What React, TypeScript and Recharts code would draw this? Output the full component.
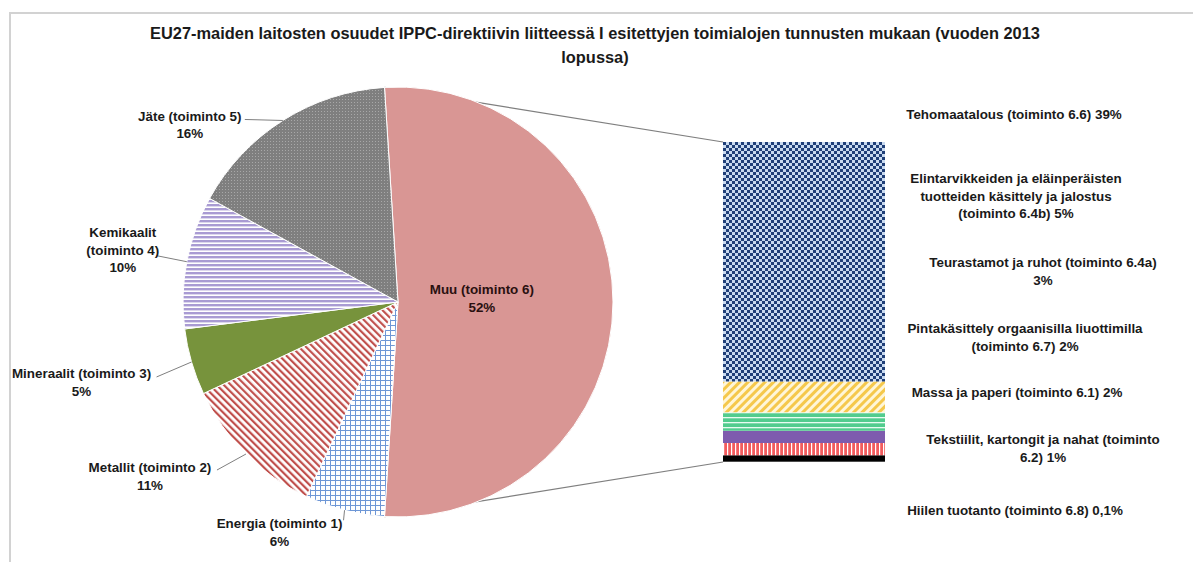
import React from "react";
import { PieChart, Pie, Cell, BarChart, Bar, XAxis, YAxis } from "recharts";

// ---------- data ----------
const titleLines = [
  "EU27-maiden laitosten osuudet IPPC-direktiivin liitteessä I esitettyjen toimialojen tunnusten mukaan (vuoden 2013",
  "lopussa)",
];

const pieNames = [
  "Muu (toiminto 6)",
  "Energia (toiminto 1)",
  "Metallit (toiminto 2)",
  "Mineraalit (toiminto 3)",
  "Kemikaalit (toiminto 4)",
  "Jäte (toiminto 5)",
];
const pieValues = [52, 6, 11, 5, 10, 16];

const barNames = [
  "Tehomaatalous (toiminto 6.6) ",
  "Elintarvikkeiden ja eläinperäisten\ntuotteiden käsittely ja jalostus\n(toiminto 6.4b)",
  "Teurastamot ja ruhot (toiminto 6.4a)\n",
  "Pintakäsittely orgaanisilla liuottimilla\n(toiminto 6.7)",
  "Massa ja paperi (toiminto 6.1)",
  "Tekstiilit, kartongit ja nahat (toiminto\n6.2)",
  "Hiilen tuotanto (toiminto 6.8)",
];
const barValues = [39, 5, 3, 2, 2, 1, 0.1];

// ---------- derived tables ----------
const pieData = pieNames.map((name, i) => ({ name, value: pieValues[i] }));
const pieTotal = pieValues.reduce((a, b) => a + b, 0);
const barKeys = barNames.map((_, i) => `s${i}`);
const barRow: Record<string, any> = { cat: pieNames[0] };
barKeys.forEach((k, i) => (barRow[k] = barValues[i]));
const barData = [barRow];
const barTotal = barValues.reduce((a, b) => a + b, 0);

// ---------- layout / style ----------
const W = 1193;
const H = 562;
const PIE = { cx: 398, cy: 302, r: 215 };
const BAR = { x: 723, y: 142, w: 162, h: 320 };
const FONT = "'Liberation Sans', Arial, sans-serif";
const TEXT = "#1a1a1a";
const LINE_H = 17.5;
const LABEL_FS = 13.4;

const muuHalf = ((pieValues[0] / pieTotal) * 360) / 2;
const START = muuHalf;
const END = muuHalf - 360;

const pieFills = [
  "#D99694",
  "url(#pEnergia)",
  "url(#pMetallit)",
  "#77933C",
  "url(#pKemikaalit)",
  "url(#pJate)",
];
const barFills = [
  "url(#pTeho)",
  "url(#pElin)",
  "url(#pTeur)",
  "#7E5BAE",
  "url(#pMassa)",
  "#000000",
  "#333333",
];

const pieLabelLayout: any[] = [
  { inside: true, rf: 0.39, dy: -4 },
  { dx: -65, dy: 22, lx: -1, ly: 10 },
  { dx: -96, dy: 22, lx: -29, ly: 16 },
  { dx: -110, dy: 20, lx: -35, ly: 15 },
  { dx: -64, dy: -12, lx: -30, ly: -6, wrap: true },
  { dx: -93, dy: 4, lx: -38, ly: -1 },
];

const barLabelLayout = [
  { x: 1014, y: 114 },
  { x: 1016, y: 178 },
  { x: 1043, y: 262 },
  { x: 1025, y: 328 },
  { x: 1017, y: 392 },
  { x: 1043, y: 439 },
  { x: 1015, y: 510 },
];

const fmtPct = (v: number) => `${String(v).replace(".", ",")}%`;
const RAD = Math.PI / 180;
const polar = (cx: number, cy: number, r: number, a: number) => ({
  x: cx + Math.cos(-a * RAD) * r,
  y: cy + Math.sin(-a * RAD) * r,
});

const PieDefs = () => (
  <defs>
    <pattern id="pEnergia" width="5" height="5" patternUnits="userSpaceOnUse">
      <rect width="5" height="5" fill="#ffffff" />
      <rect x="0" y="0" width="5" height="1" fill="#6E97D6" />
      <rect x="0" y="0" width="1" height="5" fill="#6E97D6" />
    </pattern>
    <pattern id="pMetallit" width="5" height="5" patternUnits="userSpaceOnUse" patternTransform="rotate(-45)">
      <rect width="5" height="5" fill="#ffffff" />
      <rect x="0" y="0" width="2.2" height="5" fill="#C0504D" />
    </pattern>
    <pattern id="pKemikaalit" width="4" height="4" patternUnits="userSpaceOnUse">
      <rect width="4" height="4" fill="#ffffff" />
      <rect x="0" y="0" width="4" height="2.4" fill="#A99BD3" />
    </pattern>
    <pattern id="pJate" width="3" height="3" patternUnits="userSpaceOnUse">
      <rect width="3" height="3" fill="#7F7F7F" />
      <rect x="0" y="0" width="1" height="1" fill="#A8A8A8" />
    </pattern>
  </defs>
);

const BarDefs = () => (
  <defs>
    <pattern id="pTeho" width="6" height="6" patternUnits="userSpaceOnUse">
      <rect width="6" height="6" fill="#C9DAF0" />
      <rect x="0" y="0" width="3" height="3" fill="#203F78" />
      <rect x="3" y="3" width="3" height="3" fill="#203F78" />
    </pattern>
    <pattern id="pElin" width="6" height="6" patternUnits="userSpaceOnUse" patternTransform="rotate(45)">
      <rect width="6" height="6" fill="#FFF6D8" />
      <rect x="0" y="0" width="3" height="6" fill="#F5C84C" />
    </pattern>
    <pattern id="pTeur" width="5" height="5" patternUnits="userSpaceOnUse">
      <rect width="5" height="5" fill="#52CC8E" />
      <rect x="0" y="0" width="5" height="1.3" fill="#E9FBF1" />
    </pattern>
    <pattern id="pMassa" width="4" height="4" patternUnits="userSpaceOnUse">
      <rect width="4" height="4" fill="#F25C5E" />
      <rect x="0" y="0" width="1.2" height="4" fill="#ffffff" />
    </pattern>
  </defs>
);

const renderPieLabel = (props: any) => {
  const { cx, cy, midAngle, outerRadius, index } = props;
  const lay = pieLabelLayout[index];
  const d = pieData[index];
  const nameLines = lay.wrap
    ? [d.name.slice(0, d.name.indexOf(" ")), d.name.slice(d.name.indexOf(" ") + 1)]
    : [d.name];
  const lines = [...nameLines, fmtPct(d.value)];
  let tx: number;
  let ty: number;
  let leader: any = null;
  if (lay.inside) {
    const p = polar(cx, cy, outerRadius * lay.rf, midAngle);
    tx = p.x;
    ty = p.y + lay.dy;
  } else {
    const a = polar(cx, cy, outerRadius, midAngle);
    tx = a.x + lay.dx;
    ty = a.y + lay.dy;
    leader = (
      <line x1={a.x} y1={a.y} x2={a.x + lay.lx} y2={a.y + lay.ly} stroke="#7f7f7f" strokeWidth={1} />
    );
  }
  const y0 = ty - ((lines.length - 1) * LINE_H) / 2;
  return (
    <g key={`pl-${index}`}>
      {leader}
      <text
        x={tx}
        y={y0}
        textAnchor="middle"
        dominantBaseline="central"
        fontFamily={FONT}
        fontWeight="bold"
        fontSize={LABEL_FS}
        fill={lay.inside ? "#2a1010" : TEXT}
      >
        {lines.map((l, i) => (
          <tspan key={i} x={tx} y={y0 + i * LINE_H}>
            {l}
          </tspan>
        ))}
      </text>
    </g>
  );
};

export default function App() {
  const topA = polar(PIE.cx, PIE.cy, PIE.r, START);
  const botA = polar(PIE.cx, PIE.cy, PIE.r, -muuHalf);
  return (
    <div
      style={{
        position: "absolute",
        left: 0,
        top: 0,
        width: W,
        height: H,
        overflow: "hidden",
        background: "#ffffff",
      }}
    >
      <div
        style={{
          position: "absolute",
          left: 9,
          top: 12,
          width: 1220,
          height: 700,
          border: "2px solid #d2d2d2",
          boxSizing: "border-box",
        }}
      />
      <svg width={W} height={H} style={{ position: "absolute", left: 0, top: 0 }}>
        {titleLines.map((t, i) => (
          <text
            key={i}
            x={595}
            y={33 + i * 24}
            textAnchor="middle"
            dominantBaseline="central"
            fontFamily={FONT}
            fontWeight="bold"
            fontSize={16.4}
            fill={TEXT}
          >
            {t}
          </text>
        ))}
        <line x1={topA.x} y1={topA.y} x2={BAR.x} y2={BAR.y} stroke="#7f7f7f" strokeWidth={1.2} />
        <line x1={botA.x} y1={botA.y} x2={BAR.x} y2={BAR.y + BAR.h} stroke="#7f7f7f" strokeWidth={1.2} />
        {barNames.map((n, i) => {
          const lay = barLabelLayout[i];
          const full = `${n}${n.endsWith("\n") ? "" : " "}${fmtPct(barValues[i])}`;
          const lines = full.split("\n");
          return (
            <text
              key={i}
              x={lay.x}
              y={lay.y}
              textAnchor="middle"
              dominantBaseline="central"
              fontFamily={FONT}
              fontWeight="bold"
              fontSize={LABEL_FS}
              fill={TEXT}
            >
              {lines.map((l, j) => (
                <tspan key={j} x={lay.x} y={lay.y + j * LINE_H}>
                  {l}
                </tspan>
              ))}
            </text>
          );
        })}
      </svg>
      <div style={{ position: "absolute", left: 0, top: 0 }}>
        <PieChart width={W} height={H} margin={{ top: 0, right: 0, bottom: 0, left: 0 }}>
          <PieDefs />
          <Pie
            data={pieData}
            dataKey="value"
            nameKey="name"
            cx={PIE.cx}
            cy={PIE.cy}
            outerRadius={PIE.r}
            startAngle={START}
            endAngle={END}
            stroke="#ffffff"
            strokeWidth={1}
            label={renderPieLabel}
            labelLine={false}
            isAnimationActive={false}
          >
            {pieData.map((_, i) => (
              <Cell key={i} fill={pieFills[i]} />
            ))}
          </Pie>
        </PieChart>
      </div>
      <div style={{ position: "absolute", left: BAR.x, top: BAR.y }}>
        <BarChart
          width={BAR.w}
          height={BAR.h}
          data={barData}
          margin={{ top: 0, right: 0, bottom: 0, left: 0 }}
          barCategoryGap={0}
          barGap={0}
        >
          <BarDefs />
          <XAxis dataKey="cat" hide />
          <YAxis type="number" hide domain={[0, barTotal]} />
          {[...barKeys].reverse().map((k) => {
            const i = barKeys.indexOf(k);
            return (
              <Bar key={k} dataKey={k} stackId="a" fill={barFills[i]} isAnimationActive={false} />
            );
          })}
        </BarChart>
      </div>
    </div>
  );
}
